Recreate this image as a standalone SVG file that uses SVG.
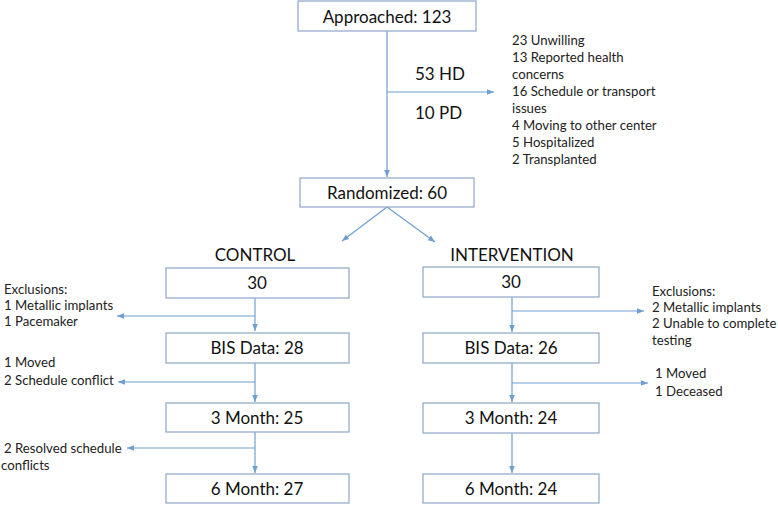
<svg xmlns="http://www.w3.org/2000/svg" width="778" height="505" viewBox="0 0 778 505">
<style>
.box{fill:#fff;stroke:#8ca6c6;stroke-width:1.2}
.c{stroke:#6f9fd0;stroke-width:1.2;fill:none}
.bt{font-family:Lato,"Liberation Sans",sans-serif;font-size:17px;fill:#111;text-anchor:middle}
.st{font-family:Lato,"Liberation Sans",sans-serif;font-size:13.2px;fill:#222}
.mt{font-family:Lato,"Liberation Sans",sans-serif;font-size:17px;fill:#111}
</style>
<defs>
<marker id="ah" viewBox="0 0 10 10" refX="10" refY="5" markerWidth="7" markerHeight="7" orient="auto" markerUnits="userSpaceOnUse">
<path d="M0,1 L10,5 L0,9 z" fill="#6f9fd0"/>
</marker>
</defs>
<rect width="778" height="505" fill="#fff"/>
<g id="connectors">
<line class="c" x1="387" y1="31" x2="387" y2="177" marker-end="url(#ah)"/>
<line class="c" x1="387" y1="92" x2="494" y2="92" marker-end="url(#ah)"/>
<line class="c" x1="387" y1="207" x2="342" y2="241" marker-end="url(#ah)"/>
<line class="c" x1="387" y1="207" x2="435" y2="242" marker-end="url(#ah)"/>
<line class="c" x1="255" y1="298" x2="255" y2="331" marker-end="url(#ah)"/>
<line class="c" x1="255" y1="316" x2="117" y2="316" marker-end="url(#ah)"/>
<line class="c" x1="255" y1="363" x2="255" y2="402" marker-end="url(#ah)"/>
<line class="c" x1="255" y1="382" x2="118" y2="382" marker-end="url(#ah)"/>
<line class="c" x1="255" y1="432" x2="255" y2="473" marker-end="url(#ah)"/>
<line class="c" x1="255" y1="448" x2="127" y2="448" marker-end="url(#ah)"/>
<line class="c" x1="512" y1="297" x2="512" y2="332" marker-end="url(#ah)"/>
<line class="c" x1="512" y1="311" x2="644" y2="311" marker-end="url(#ah)"/>
<line class="c" x1="512" y1="363" x2="512" y2="402" marker-end="url(#ah)"/>
<line class="c" x1="512" y1="383" x2="648" y2="383" marker-end="url(#ah)"/>
<line class="c" x1="512" y1="433" x2="512" y2="473" marker-end="url(#ah)"/>
</g>
<g id="approached"><rect class="box" x="298" y="1" width="178" height="30"/><text class="bt" x="387" y="22.5">Approached: 123</text></g>
<g id="excl-top">
<text class="mt" x="415" y="80">53 HD</text>
<text class="mt" x="415" y="119">10 PD</text>
<text class="st" x="512" y="45">23 Unwilling</text>
<text class="st" x="512" y="62">13 Reported health</text>
<text class="st" x="512" y="79">concerns</text>
<text class="st" x="512" y="96">16 Schedule or transport</text>
<text class="st" x="512" y="113">issues</text>
<text class="st" x="512" y="130">4 Moving to other center</text>
<text class="st" x="512" y="147">5 Hospitalized</text>
<text class="st" x="512" y="164">2 Transplanted</text>
</g>
<g id="randomized"><rect class="box" x="300" y="178" width="174" height="29"/><text class="bt" x="387" y="198.5">Randomized: 60</text></g>
<g id="control-label"><text class="bt" x="255" y="261">CONTROL</text></g>
<g id="intervention-label"><text class="bt" x="512" y="261">INTERVENTION</text></g>
<g id="c30"><rect class="box" x="166" y="268" width="183" height="30"/><text class="bt" x="257" y="289">30</text></g>
<g id="cbis"><rect class="box" x="166" y="333" width="183" height="30"/><text class="bt" x="257" y="354">BIS Data: 28</text></g>
<g id="c3"><rect class="box" x="166" y="403" width="183" height="29"/><text class="bt" x="257" y="424">3 Month: 25</text></g>
<g id="c6"><rect class="box" x="166" y="474" width="183" height="29"/><text class="bt" x="257" y="495">6 Month: 27</text></g>
<g id="i30"><rect class="box" x="423" y="267" width="176" height="30"/><text class="bt" x="511" y="288">30</text></g>
<g id="ibis"><rect class="box" x="423" y="333" width="176" height="30"/><text class="bt" x="511" y="354">BIS Data: 26</text></g>
<g id="i3"><rect class="box" x="423" y="403" width="176" height="30"/><text class="bt" x="511" y="424">3 Month: 24</text></g>
<g id="i6"><rect class="box" x="423" y="474" width="176" height="29"/><text class="bt" x="511" y="495">6 Month: 24</text></g>
<g id="excl-c1">
<text class="st" x="4" y="294">Exclusions:</text>
<text class="st" x="4" y="310">1 Metallic implants</text>
<text class="st" x="4" y="326">1 Pacemaker</text>
</g>
<g id="excl-c2">
<text class="st" x="4" y="367">1 Moved</text>
<text class="st" x="4" y="385">2 Schedule conflict</text>
</g>
<g id="excl-c3">
<text class="st" x="4" y="453">2 Resolved schedule</text>
<text class="st" x="1" y="470">conflicts</text>
</g>
<g id="excl-i1">
<text class="st" x="652" y="296">Exclusions:</text>
<text class="st" x="652" y="312">2 Metallic implants</text>
<text class="st" x="652" y="328">2 Unable to complete</text>
<text class="st" x="652" y="345">testing</text>
</g>
<g id="excl-i2">
<text class="st" x="655" y="378">1 Moved</text>
<text class="st" x="655" y="396">1 Deceased</text>
</g>
</svg>
